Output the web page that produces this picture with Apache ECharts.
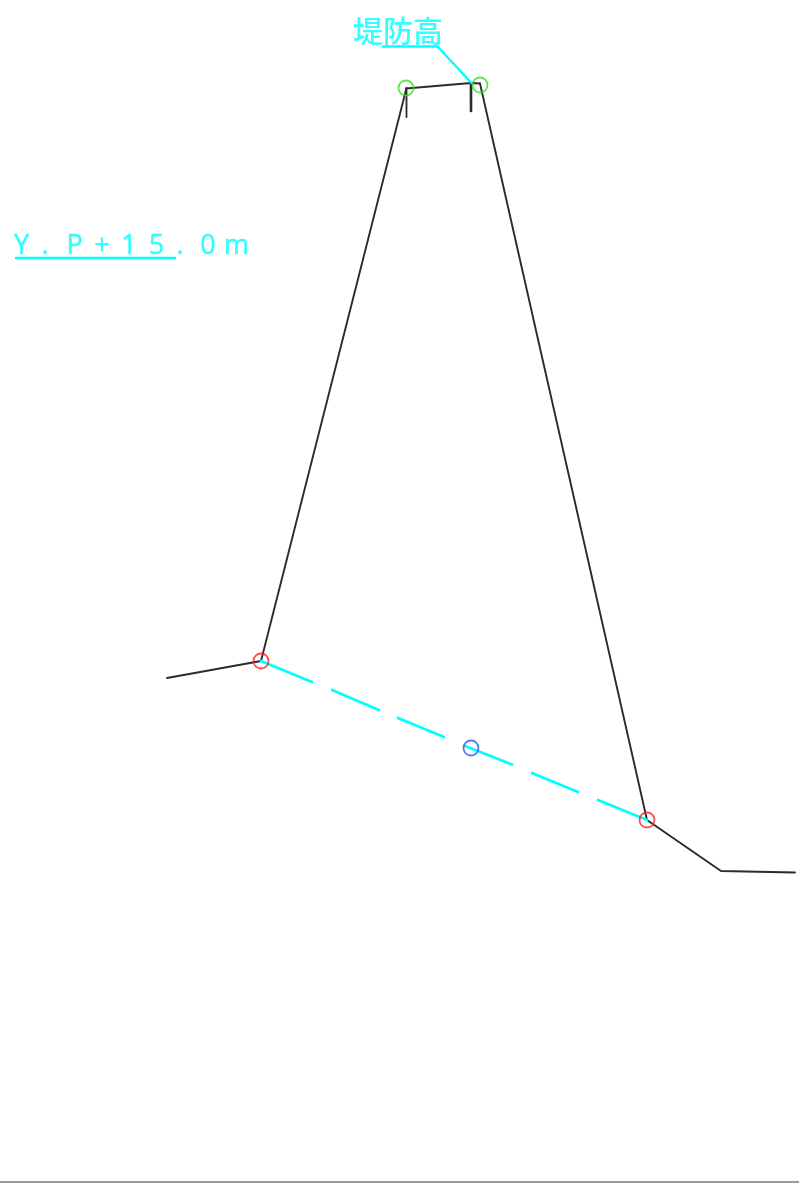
<!DOCTYPE html>
<html><head><meta charset="utf-8">
<style>html,body{margin:0;padding:0;background:#fff}#c{width:799px;height:1183px}</style>
<script src="https://cdn.jsdelivr.net/npm/echarts@6/dist/echarts.min.js"></script>
</head><body><div id="c"></div>
<script>
const groundLeft = [[167,678],[261,661]];
const slopeLeft = [[261,661],[406,90]];
const crown = [[406,88.5],[471,83],[480,83.5]];
const slopeRight = [[480,83.5],[647,820]];
const groundRight = [[647,820],[721,871],[795,872.5]];
const postLeft = [[406.5,88],[406.5,117]];
const postRight = [[471,83],[471,111]];
const leader = [[383,46.5],[437.5,46.5],[471.5,83]];
const levelUnderline = [[16,258],[175,258]];
const seepage = [[261,661],[312,682],null,[332,690],[379,710],null,[398,718],[444,737],null,[465,746],[512,764.5],null,[532,773],[578,792],null,[598,800],[647,820]];
const crestPoints = [[406,88],[480,85]];
const toePoints = [[261,661],[647,820]];
const midPoints = [[471,748]];
const titleLabel = [{name:'堤防高',value:[398,30.5]}];
const levelChars = ['Y','.','P','+','1','5','.','0','m'];
const levelCharX = [21.5,45,74.5,102,129,156.5,180,208,236.5];
const levelCharY = 246;
const frameLine = [[0,1182],[799,1182]];

const BLACK='#2b2b2b', CYAN='#00ffff';
function line(data,color,width,z){
  return {type:'line',data:data.map(p=>p===null?[null,null]:p),connectNulls:false,showSymbol:false,symbol:'none',
    clip:false,silent:true,z:z||2,lineStyle:{color:color,width:width,cap:'round',join:'round'}};
}
function rings(data,color){
  return {type:'scatter',data:data,symbol:'circle',symbolSize:15,silent:true,z:4,clip:false,
    itemStyle:{color:'rgba(0,0,0,0)',borderColor:color,borderWidth:1.8}};
}
const chart=echarts.init(document.getElementById('c'),null,{renderer:'canvas'});
chart.setOption({
  animation:false,backgroundColor:'#fff',
  grid:{left:0,right:0,top:0,bottom:0,containLabel:false},
  xAxis:{type:'value',min:0,max:799,show:false},
  yAxis:{type:'value',min:0,max:1183,inverse:true,show:false},
  series:[
    line(groundLeft,BLACK,1.9),line(slopeLeft,BLACK,1.9),line(crown,BLACK,2),
    line(slopeRight,BLACK,1.9),line(groundRight,BLACK,1.9),
    line(postLeft,BLACK,1.8),line(postRight,BLACK,2.6),
    line(leader,CYAN,2.4,3),line(levelUnderline,CYAN,2.4,3),
    line(seepage,CYAN,2.8,3),
    line(frameLine,'#9a9a9a',2),
    rings(crestPoints,'#35e01f'),rings(toePoints,'#f5262a'),rings(midPoints,'#2f55f0'),
    {type:'scatter',symbolSize:0,silent:true,z:5,clip:false,
     data:titleLabel,
     label:{show:true,position:'inside',formatter:'{b}',color:CYAN,fontSize:30,fontWeight:500,
       fontFamily:'"Noto Sans CJK JP"'}},
    {type:'scatter',symbolSize:0,silent:true,z:5,clip:false,
     data:levelChars.map((c,i)=>({name:c,value:[levelCharX[i],levelCharY]})),
     label:{show:true,position:'inside',formatter:'{b}',color:CYAN,fontSize:27,
       textBorderColor:CYAN,textBorderWidth:0.4,
       fontFamily:'"Open Sans"'}}
  ]
});
</script></body></html>
